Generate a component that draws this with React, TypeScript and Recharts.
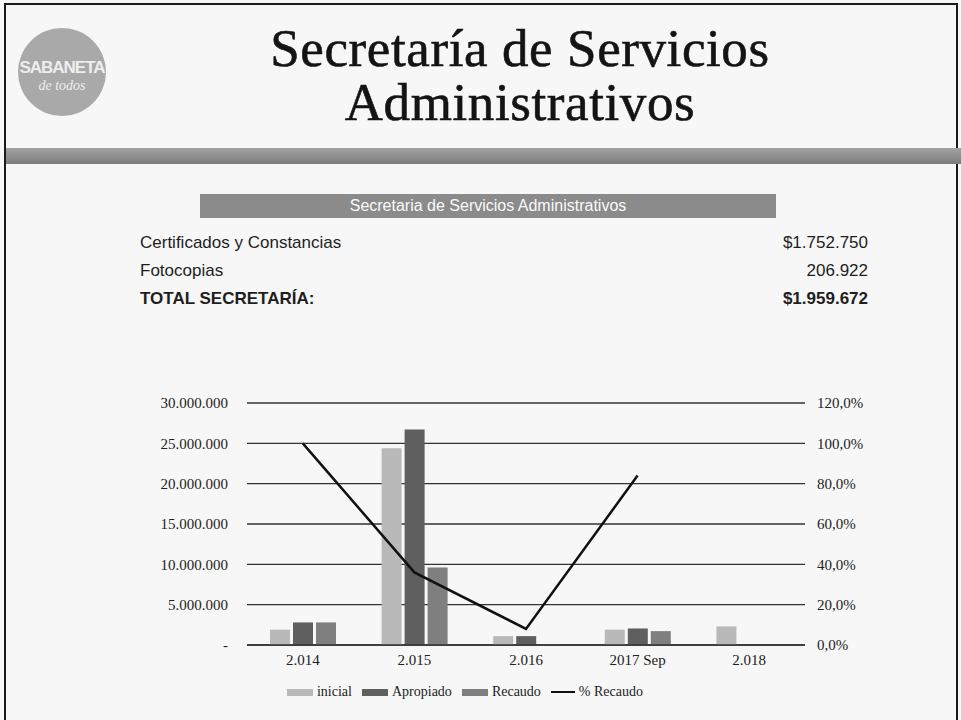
import { Bar, CartesianGrid, ComposedChart, Legend, Line, XAxis, YAxis } from 'recharts';

const categories = ['2.014', '2.015', '2.016', '2017 Sep', '2.018'];
const inicial = [1900000, 24400000, 1100000, 1900000, 2300000];
const apropiado = [2800000, 26700000, 1100000, 2050000, null];
const recaudo = [2800000, 9600000, 90000, 1720000, null];
const pctRecaudo = [1.0, 0.36, 0.08, 0.84, null];

const leftTicks = [0, 5000000, 10000000, 15000000, 20000000, 25000000, 30000000];
const rightTicks = [0, 0.2, 0.4, 0.6, 0.8, 1.0, 1.2];

const rows = [
  { label: 'Certificados y Constancias', value: '$1.752.750', bold: false },
  { label: 'Fotocopias', value: '206.922', bold: false },
  { label: 'TOTAL SECRETARÍA:', value: '$1.959.672', bold: true },
];

const colors = { inicial: '#b9b9b9', apropiado: '#5f5f5f', recaudo: '#7f7f7f', line: '#111111' };

const data = categories.map((c, i) => ({
  cat: c,
  inicial: inicial[i],
  apropiado: apropiado[i],
  recaudo: recaudo[i],
  pct: pctRecaudo[i],
}));

const serif = '"Liberation Serif", "DejaVu Serif", serif';
const sans = '"Liberation Sans", Arial, sans-serif';

const fmtMoney = (v: number) => (v === 0 ? '-' : v.toLocaleString('de-DE'));
const fmtPct = (v: number) => `${(v * 100).toFixed(1).replace('.', ',')}%`;

const legendItems = [
  { name: 'inicial', color: colors.inicial, type: 'bar' },
  { name: 'Apropiado', color: colors.apropiado, type: 'bar' },
  { name: 'Recaudo', color: colors.recaudo, type: 'bar' },
  { name: '% Recaudo', color: colors.line, type: 'line' },
];

function ChartLegend() {
  return (
    <div style={{ display: 'flex', justifyContent: 'center', gap: 10, fontFamily: serif, fontSize: 14, color: '#222' }}>
      {legendItems.map((it) => (
        <div key={it.name} style={{ display: 'flex', alignItems: 'center', gap: 4 }}>
          {it.type === 'bar' ? (
            <span style={{ display: 'inline-block', width: 26, height: 7, background: it.color }} />
          ) : (
            <span style={{ display: 'inline-block', width: 24, height: 2, background: it.color }} />
          )}
          <span>{it.name}</span>
        </div>
      ))}
    </div>
  );
}

const titleStyle = {
  position: 'absolute' as const,
  left: 130,
  width: 780,
  textAlign: 'center' as const,
  fontFamily: serif,
  fontSize: 53,
  lineHeight: '53px',
  letterSpacing: 0.6,
  color: '#141414',
  WebkitTextStroke: '0.6px #141414',
};

export default function App() {
  return (
    <div
      style={{
        position: 'absolute',
        left: 0,
        top: 0,
        width: 961,
        height: 720,
        background: '#f6f7f6',
        overflow: 'hidden',
      }}
    >
      {/* frame */}
      <div style={{ position: 'absolute', left: 4, top: 3, width: 950, height: 730, border: '2px solid #1a1a1a' }} />

      {/* logo */}
      <div
        style={{
          position: 'absolute',
          left: 18,
          top: 28,
          width: 88,
          height: 88,
          borderRadius: '50%',
          background: '#a9a9a9',
          color: '#eeeeee',
          fontFamily: sans,
          textAlign: 'center',
        }}
      >
        <div style={{ marginTop: 30, fontSize: 17, fontWeight: 'bold', letterSpacing: -1 }}>SABANETA</div>
        <div style={{ fontFamily: serif, fontStyle: 'italic', fontSize: 14 }}>de todos</div>
      </div>

      {/* title */}
      <div style={{ ...titleStyle, top: 22 }}>Secretaría de Servicios</div>
      <div style={{ ...titleStyle, top: 76 }}>Administrativos</div>

      {/* band */}
      <div
        style={{
          position: 'absolute',
          left: 6,
          top: 148,
          width: 955,
          height: 16,
          background: 'linear-gradient(#a2a2a2, #7c7c7c)',
        }}
      />

      {/* table */}
      <div
        style={{
          position: 'absolute',
          left: 200,
          top: 194,
          width: 576,
          height: 24,
          background: '#8b8b8b',
          color: '#fafafa',
          fontFamily: sans,
          fontSize: 16,
          lineHeight: '24px',
          textAlign: 'center',
        }}
      >
        Secretaria de Servicios Administrativos
      </div>
      {rows.map((r, i) => (
        <div
          key={r.label}
          style={{
            position: 'absolute',
            left: 140,
            top: 233 + i * 28,
            width: 728,
            display: 'flex',
            justifyContent: 'space-between',
            fontFamily: sans,
            fontSize: 17,
            fontWeight: r.bold ? 'bold' : 'normal',
            color: '#1e1e1e',
          }}
        >
          <span>{r.label}</span>
          <span>{r.value}</span>
        </div>
      ))}

      {/* chart */}
      <div style={{ position: 'absolute', left: 0, top: 380 }}>
        <ComposedChart
          width={961}
          height={340}
          data={data}
          margin={{ top: 23, right: 96, left: 130, bottom: 29 }}
          barGap={3}
          barCategoryGap="20%"
        >
          <CartesianGrid vertical={false} stroke="#333" strokeWidth={1.3} yAxisId="left" />
          <XAxis
            dataKey="cat"
            axisLine={{ stroke: '#333', strokeWidth: 1.5 }}
            tickLine={false}
            tickSize={0}
            tickMargin={9}
            height={30}
            tick={{ fontFamily: serif, fontSize: 15, fill: '#222' }}
          />
          <YAxis
            yAxisId="left"
            width={117}
            domain={[0, 30000000]}
            ticks={leftTicks}
            tickFormatter={fmtMoney}
            axisLine={false}
            tickLine={false}
            tickSize={0}
            tickMargin={19}
            tick={{ fontFamily: serif, fontSize: 15, fill: '#222' }}
          />
          <YAxis
            yAxisId="right"
            orientation="right"
            width={60}
            domain={[0, 1.2]}
            ticks={rightTicks}
            tickFormatter={fmtPct}
            axisLine={false}
            tickLine={false}
            tickSize={0}
            tickMargin={12}
            tick={{ fontFamily: serif, fontSize: 15, fill: '#222', textAnchor: 'start' }}
          />
          <Bar yAxisId="left" dataKey="inicial" name="inicial" fill={colors.inicial} barSize={20} isAnimationActive={false} />
          <Bar yAxisId="left" dataKey="apropiado" name="Apropiado" fill={colors.apropiado} barSize={20} isAnimationActive={false} />
          <Bar yAxisId="left" dataKey="recaudo" name="Recaudo" fill={colors.recaudo} barSize={20} isAnimationActive={false} />
          <Line
            yAxisId="right"
            type="linear"
            dataKey="pct"
            name="% Recaudo"
            stroke={colors.line}
            strokeWidth={2.5}
            dot={false}
            isAnimationActive={false}
          />
          <Legend
            verticalAlign="bottom"
            content={() => <ChartLegend />}
            wrapperStyle={{ left: 240, width: 450, bottom: 20 }}
          />
        </ComposedChart>
      </div>
    </div>
  );
}
